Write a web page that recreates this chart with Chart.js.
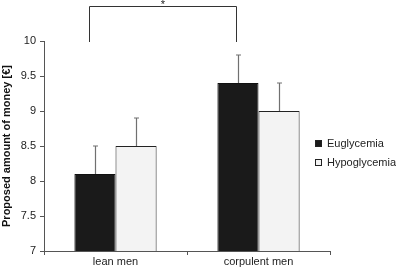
<!DOCTYPE html>
<html lang="en">
  <head>
    <meta charset="UTF-8" />
    <title>Proposed amount of money</title>
    <script src="https://cdn.jsdelivr.net/npm/chart.js"></script>
    <style>
      body {
        margin: 0;
        background: #ffffff;
      }
      #wrap {
        width: 396px;
        height: 268px;
      }
    </style>
  </head>
  <body>
    <div id="wrap"><canvas id="myChart" width="396" height="268"></canvas></div>

    <script>
      var categories = ['lean men', 'corpulent men'];
      var seriesNames = ['Euglycemia', 'Hypoglycemia'];
      var euglycemia = [8.1, 9.4];
      var hypoglycemia = [8.5, 9.0];
      var euglycemiaErr = [0.4, 0.4];
      var hypoglycemiaErr = [0.4, 0.4];
      var yTicks = [7, 7.5, 8, 8.5, 9, 9.5, 10];
      var yTitle = 'Proposed amount of money [€]';
      var sigLabel = '*';

      var font = '"Liberation Sans", Arial, sans-serif';

      // error bars (upward only) drawn from the bar elements
      var errorBars = {
        id: 'errorBars',
        afterDatasetsDraw: function (chart) {
          var ctx = chart.ctx;
          var y = chart.scales.y;
          var errs = [euglycemiaErr, hypoglycemiaErr];
          ctx.save();
          ctx.strokeStyle = '#707070';
          ctx.lineWidth = 1.2;
          chart.data.datasets.forEach(function (ds, di) {
            var meta = chart.getDatasetMeta(di);
            meta.data.forEach(function (bar, i) {
              var top = y.getPixelForValue(ds.data[i] + errs[di][i]);
              var x = Math.round(bar.x) + 0.5;
              ctx.beginPath();
              ctx.moveTo(x, bar.y);
              ctx.lineTo(x, top);
              ctx.moveTo(x - 2.5, top);
              ctx.lineTo(x + 2.5, top);
              ctx.stroke();
            });
          });
          ctx.restore();
        }
      };

      // significance bracket between the two Euglycemia bars
      var bracket = {
        id: 'bracket',
        afterDraw: function (chart) {
          var ctx = chart.ctx;
          var meta = chart.getDatasetMeta(0);
          var y = chart.scales.y;
          var x1 = Math.round(meta.data[0].x) - 5.5;
          var x2 = Math.round(meta.data[1].x) - 1.5;
          var bottom = y.getPixelForValue(10) + 1;
          var top = 6.5;
          ctx.save();
          ctx.strokeStyle = '#333';
          ctx.lineWidth = 1;
          ctx.beginPath();
          ctx.moveTo(x1, bottom);
          ctx.lineTo(x1, top);
          ctx.lineTo(x2, top);
          ctx.lineTo(x2, bottom);
          ctx.stroke();
          ctx.fillStyle = '#222';
          ctx.font = '11px ' + font;
          ctx.textAlign = 'center';
          ctx.textBaseline = 'middle';
          ctx.fillText(sigLabel, (x1 + x2) / 2, 5);
          ctx.restore();
        }
      };

      // legend placed inside the plot, right side
      var sideLegend = {
        id: 'sideLegend',
        afterDraw: function (chart) {
          var ctx = chart.ctx;
          ctx.save();
          ctx.font = '11px ' + font;
          ctx.textBaseline = 'middle';
          chart.data.datasets.forEach(function (ds, i) {
            var ly = 144 + i * 19;
            ctx.fillStyle = ds.backgroundColor;
            ctx.strokeStyle = '#222';
            ctx.lineWidth = 1;
            ctx.fillRect(315.5, ly - 3.5, 6, 6);
            ctx.strokeRect(315.5, ly - 3.5, 6, 6);
            ctx.fillStyle = '#222';
            ctx.fillText(ds.label, 327, ly);
          });
          ctx.restore();
        }
      };

      var ctx = document.getElementById('myChart').getContext('2d');
      var myChart = new Chart(ctx, {
        type: 'bar',
        data: {
          labels: categories,
          datasets: [
            {
              label: seriesNames[0],
              data: euglycemia,
              backgroundColor: '#1a1a1a',
              borderColor: '#111',
              borderWidth: 1
            },
            {
              label: seriesNames[1],
              data: hypoglycemia,
              backgroundColor: '#f3f3f3',
              borderColor: '#222',
              borderWidth: 1
            }
          ]
        },
        options: {
          responsive: false,
          animation: false,
          layout: { padding: { left: 0, top: 41, right: 66, bottom: 0 } },
          plugins: {
            legend: { display: false },
            tooltip: { enabled: false }
          },
          datasets: {
            bar: { barPercentage: 1, categoryPercentage: 0.575 }
          },
          scales: {
            x: {
              grid: {
                drawOnChartArea: false,
                tickLength: 4,
                color: '#555'
              },
              border: { color: '#555' },
              ticks: {
                color: '#222',
                font: { family: font, size: 11 },
                padding: 0
              },
              afterFit: function (scale) { scale.height = 17; }
            },
            y: {
              min: 7,
              max: 10,
              afterBuildTicks: function (scale) {
                scale.ticks = yTicks.map(function (v) { return { value: v }; });
              },
              grid: {
                drawOnChartArea: false,
                tickLength: 4,
                color: '#555'
              },
              border: { color: '#555' },
              ticks: {
                color: '#222',
                font: { family: font, size: 11 },
                padding: 4,
                callback: function (v) { return String(v); }
              },
              title: {
                display: true,
                text: yTitle,
                color: '#111',
                font: { family: font, size: 11, weight: 'bold' },
                padding: 0
              },
              afterFit: function (scale) { scale.width = 44; }
            }
          }
        },
        plugins: [errorBars, bracket, sideLegend]
      });
    </script>
  </body>
</html>
